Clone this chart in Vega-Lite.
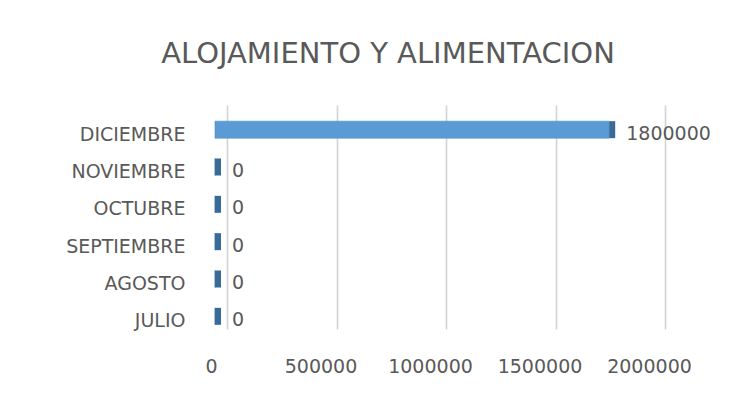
{
  "$schema": "https://vega.github.io/schema/vega-lite/v6.json",
  "autosize": "none",
  "width": 438,
  "height": 224,
  "padding": {"left": 227, "top": 105, "right": 88, "bottom": 73},
  "background": "white",
  "config": {
    "view": {"stroke": null},
    "font": "DejaVu Sans"
  },
  "title": {
    "text": "ALOJAMIENTO Y ALIMENTACION",
    "font": "DejaVu Sans",
    "fontSize": 29,
    "fontWeight": "normal",
    "color": "#595959",
    "anchor": "middle",
    "frame": "group",
    "dx": -58,
    "offset": 36
  },
  "data": {
    "values": [
      {"mes": "DICIEMBRE", "valor": 1800000},
      {"mes": "NOVIEMBRE", "valor": 0},
      {"mes": "OCTUBRE", "valor": 0},
      {"mes": "SEPTIEMBRE", "valor": 0},
      {"mes": "AGOSTO", "valor": 0},
      {"mes": "JULIO", "valor": 0}
    ]
  },
  "encoding": {
    "y": {
      "field": "mes",
      "type": "nominal",
      "sort": ["DICIEMBRE", "NOVIEMBRE", "OCTUBRE", "SEPTIEMBRE", "AGOSTO", "JULIO"],
      "scale": {"paddingInner": 0, "paddingOuter": 0},
      "axis": {
        "title": null,
        "domain": false,
        "ticks": false,
        "labelFont": "DejaVu Sans",
        "labelFontSize": 19,
        "labelColor": "#595959",
        "labelPadding": 42,
        "labelOffset": 11
      }
    },
    "x": {
      "field": "valor",
      "type": "quantitative",
      "scale": {"domain": [0, 2000000], "nice": false},
      "axis": {
        "title": null,
        "values": [0, 500000, 1000000, 1500000, 2000000],
        "format": "d",
        "domain": false,
        "ticks": false,
        "grid": true,
        "gridColor": "#D4D4D4",
        "gridWidth": 1.6,
        "labelFont": "DejaVu Sans",
        "labelFontSize": 19,
        "labelColor": "#595959",
        "labelPadding": 28,
        "labelOffset": -16,
        "labelOverlap": false,
        "labelFlush": false
      }
    }
  },
  "layer": [
    {
      "mark": {"type": "bar", "color": "#5B9BD5", "stroke": "#4F8CC6", "strokeWidth": 0.6, "size": 17, "xOffset": -12, "yOffset": 6}
    },
    {
      "mark": {"type": "tick", "orient": "vertical", "color": "#3A6A98", "opacity": 1, "thickness": 6, "size": 17, "xOffset": -9, "yOffset": 6}
    },
    {
      "mark": {"type": "text", "align": "left", "baseline": "middle", "dx": 5, "dy": 10, "font": "DejaVu Sans", "fontSize": 19, "color": "#595959"},
      "encoding": {"text": {"field": "valor", "type": "quantitative", "format": "d"}}
    }
  ]
}
